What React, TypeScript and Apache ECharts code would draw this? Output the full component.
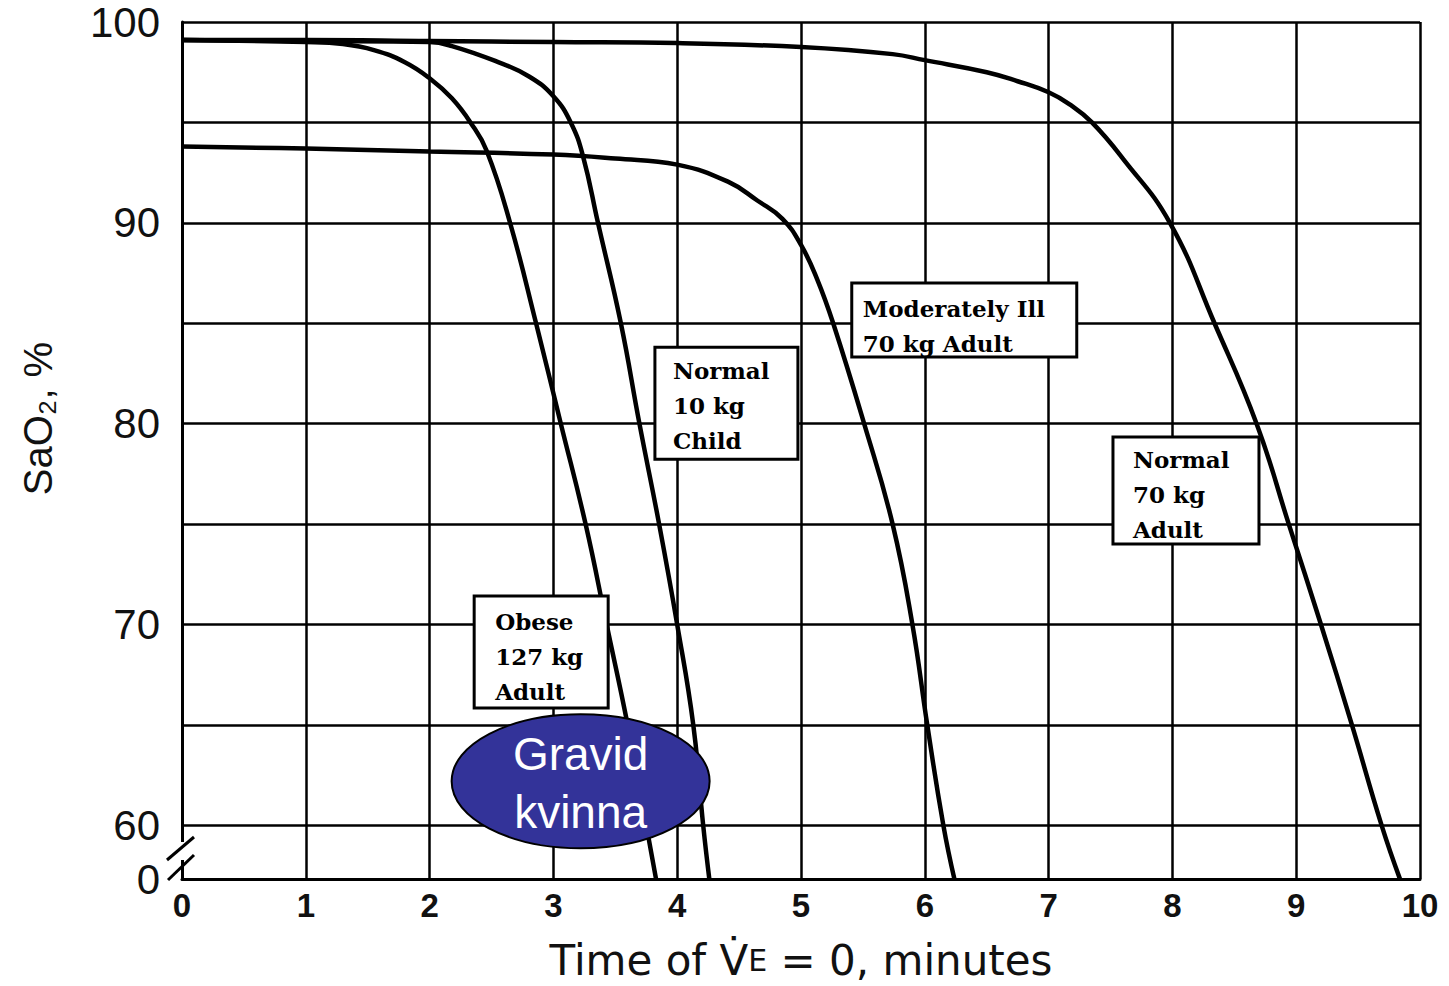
import React, { useEffect, useRef } from "react";
import * as echarts from "echarts";

// ---- data (time in minutes, SaO2 in %) ----
const Y_FLOOR = 57.33; // bottom of broken axis, labelled "0"

const obeseTime = [0, 1, 1.3, 1.55, 1.8, 2, 2.18, 2.33, 2.46, 2.65, 2.86, 3.06, 3.26, 3.43, 3.6, 3.75, 3.83];
const obeseSat = [99.1, 99.0, 98.9, 98.6, 98.0, 97.2, 96.2, 95, 93.6, 90, 85, 80, 75, 70, 65, 60, 57.3];

const childTime = [0, 1, 2, 2.18, 2.53, 2.8, 3.0, 3.14, 3.24, 3.36, 3.545, 3.695, 3.854, 4.0, 4.13, 4.21, 4.26];
const childSat = [99.1, 99.05, 99.0, 98.8, 98.06, 97.3, 96.3, 95, 93.3, 90, 85, 80, 75, 70, 65, 60, 57.3];

const illTime = [0, 1, 2, 3, 3.5, 4, 4.41, 4.65, 4.85, 5.0, 5.13, 5.26, 5.51, 5.74, 5.9, 6.02, 6.15, 6.24];
const illSat = [93.8, 93.7, 93.55, 93.4, 93.2, 92.9, 92.05, 91.1, 90.2, 88.9, 87.2, 85, 80, 75, 70, 65, 60, 57.3];

const adultTime = [0, 1, 2, 3, 4, 5, 5.74, 6, 6.5, 6.75, 7, 7.17, 7.35, 7.6, 7.98, 8.34, 8.68, 8.94, 9.2, 9.45, 9.69, 9.84];
const adultSat = [99.1, 99.1, 99.05, 99.0, 98.95, 98.75, 98.4, 98.1, 97.5, 97.05, 96.5, 95.9, 95, 93.2, 90, 85, 80, 75, 70, 65, 60, 57.3];

const seriesNames = ["Obese 127 kg Adult", "Normal 10 kg Child", "Moderately Ill 70 kg Adult", "Normal 70 kg Adult"];

// ---- annotation text ----
const obeseLabel = ["Obese", "127 kg", "Adult"];
const childLabel = ["Normal", "10 kg", "Child"];
const illLabel = ["Moderately Ill", "70 kg Adult"];
const adultLabel = ["Normal", "70 kg", "Adult"];
const gravidLabel = ["Gravid", "kvinna"];

// annotation layout: anchor (top-left, in data coords) + box size in pixels
const boxLayout = [
  { lines: obeseLabel, at: [2.36, 71.42], w: 134, h: 112, dx: 21, dy: 25 },
  { lines: childLabel, at: [3.82, 83.8], w: 143, h: 112, dx: 18, dy: 23 },
  { lines: illLabel, at: [5.41, 87.0], w: 225, h: 74, dx: 11, dy: 25 },
  { lines: adultLabel, at: [7.52, 79.34], w: 146, h: 107, dx: 20, dy: 23 },
];
const gravidAt = [3.22, 62.2];

export default function App() {
  const ref = useRef<HTMLDivElement>(null);

  useEffect(() => {
    const chart = echarts.init(ref.current!, null, { renderer: "svg" });
    const zip = (t: number[], s: number[]) => t.map((v, i) => [v, s[i]]);
    const curves = [
      zip(obeseTime, obeseSat),
      zip(childTime, childSat),
      zip(illTime, illSat),
      zip(adultTime, adultSat),
    ];
    const font = '"Liberation Sans", Arial, sans-serif';

    chart.setOption({
      animation: false,
      backgroundColor: "#ffffff",
      grid: { left: 182, right: 29, top: 22, bottom: 103, containLabel: false },
      xAxis: {
        type: "value",
        min: 0,
        max: 10,
        interval: 1,
        name: "Time of V\u0307{s|E} = 0, minutes",
        nameLocation: "middle",
        nameGap: 60,
        nameTextStyle: {
          fontFamily: '"DejaVu Sans", sans-serif',
          fontSize: 42,
          color: "#111",
          rich: { s: { fontSize: 30, fontFamily: '"DejaVu Sans", sans-serif', color: "#111" } },
        },
        axisLine: { show: true, lineStyle: { color: "#000", width: 3 } },
        axisTick: { show: false },
        axisLabel: {
          margin: 10,
          fontFamily: font,
          fontSize: 33,
          fontWeight: "bold",
          color: "#111",
        },
        splitLine: { show: true, lineStyle: { color: "#000", width: 2.5 } },
      },
      yAxis: {
        type: "value",
        min: Y_FLOOR,
        max: 100,
        splitNumber: 8,
        name: "SaO\u2082, %",
        nameLocation: "middle",
        nameGap: 124,
        nameRotate: 90,
        nameTextStyle: {
          fontFamily: font,
          fontSize: 40,
          color: "#111",
          padding: [0, 0, 0, 64],
        },
        axisLine: { show: true, lineStyle: { color: "#000", width: 3 } },
        axisTick: { show: false },
        axisLabel: {
          showMinLabel: true,
          showMaxLabel: true,
          margin: 22,
          fontFamily: font,
          fontSize: 42,
          lineHeight: 40,
          color: "#111",
          formatter: (v: number) => {
            if (v < 59) return "0";
            return Math.abs(v % 10) < 1e-6 ? String(Math.round(v)) : "";
          },
        },
        splitLine: { show: true, lineStyle: { color: "#000", width: 2.5 } },
      },
      series: curves.map((d, i) => ({
        name: seriesNames[i],
        type: "line",
        data: d,
        smooth: 0.45,
        showSymbol: false,
        symbol: "none",
        clip: true,
        z: 5,
        lineStyle: { color: "#000", width: 4.5 },
      })),
    });

    const toPx = (p: number[]) => chart.convertToPixel({ gridIndex: 0 }, p) as number[];
    const graphics: any[] = [];
    boxLayout.forEach((b) => {
      const [x, y] = toPx(b.at);
      graphics.push({
        type: "rect",
        z: 100,
        shape: { x, y, width: b.w, height: b.h },
        style: { fill: "#ffffff", stroke: "#000", lineWidth: 3 },
      });
      b.lines.forEach((t, i) => {
        graphics.push({
          type: "text",
          z: 101,
          style: {
            text: t,
            x: x + b.dx,
            y: y + b.dy + i * 35,
            fill: "#000",
            font: 'bold 23px "DejaVu Serif"',
            align: "left",
            verticalAlign: "middle",
            textAlign: "left",
            textVerticalAlign: "middle",
          },
        });
      });
    });
    const [gx, gy] = toPx(gravidAt);
    graphics.push({
      type: "ellipse",
      z: 100,
      shape: { cx: gx, cy: gy, rx: 129, ry: 67 },
      style: { fill: "#333399", stroke: "#000", lineWidth: 2 },
    });
    gravidLabel.forEach((t, i) => {
      graphics.push({
        type: "text",
        z: 101,
        style: {
          text: t,
          x: gx,
          y: gy - 27 + i * 58,
          fill: "#ffffff",
          font: '46px "Liberation Sans", Arial, sans-serif',
          align: "center",
          verticalAlign: "middle",
          textAlign: "center",
          textVerticalAlign: "middle",
        },
      });
    });
    // axis break marks at the foot of the y axis
    const [bx, by] = toPx([0, Y_FLOOR]);
    graphics.push({
      type: "rect",
      z: 99,
      shape: { x: bx - 6, y: by - 37, width: 12, height: 18 },
      style: { fill: "#ffffff" },
    });
    graphics.push({
      type: "line",
      z: 100,
      shape: { x1: bx - 15, y1: by - 19, x2: bx + 12, y2: by - 42 },
      style: { stroke: "#000", lineWidth: 3 },
    });
    graphics.push({
      type: "line",
      z: 100,
      shape: { x1: bx - 14, y1: by + 1, x2: bx + 12, y2: by - 24 },
      style: { stroke: "#000", lineWidth: 3 },
    });
    chart.setOption({ graphic: graphics });

    return () => chart.dispose();
  }, []);

  return (
    <div
      ref={ref}
      style={{ position: "fixed", left: 0, top: 0, width: 1449, height: 986, background: "#fff" }}
    />
  );
}
